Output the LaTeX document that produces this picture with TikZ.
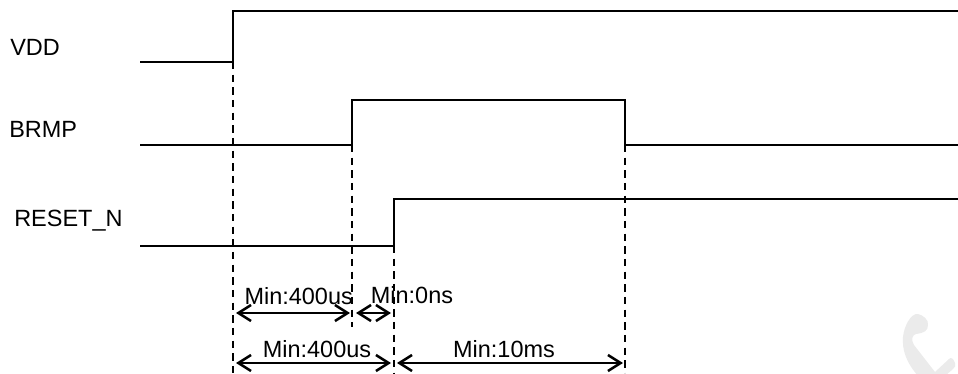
\documentclass[tikz,border=0pt]{standalone}
\usepackage{fontspec}
\setmainfont{Liberation Sans}
\usetikzlibrary{arrows.meta}
\tikzset{
    senal/.style={line width=1.7pt},
    guia/.style={line width=1.3pt, dash pattern=on 5.5pt off 4pt},
    cota/.style={line width=1.9pt, <->, >={Straight Barb[length=9.5pt,width=12pt]}},
    etiqueta/.style={inner sep=0pt, font=\fontsize{17.6}{20}\selectfont},
}
\begin{document}
\begin{tikzpicture}[x=0.75pt, y=-0.75pt]
        \useasboundingbox (0,0) rectangle (958,374);

        % Marca de agua
        \begin{scope}
            \clip (0,0) rectangle (958,374);
            \fill[black!8] (918,314) .. controls (923,315) and (929,320) .. (928,325)
                .. controls (928,331) and (924,333) .. (916,334)
                .. controls (912,335) and (911,340) .. (914,345)
                -- (935,372) -- (949,359)
                .. controls (951,357) and (953,358) .. (955,363)
                .. controls (956,366) and (955,367) .. (953,369)
                -- (945,376) -- (918,376)
                .. controls (906,362) and (902,350) .. (903,337)
                .. controls (904,326) and (911,313) .. (918,314) -- cycle;
        \end{scope}

        % Puntos de las transiciones
        \coordinate (vddIni) at (140,62);
        \coordinate (vddBajo) at (233,62);
        \coordinate (vddAlto) at (233,11);
        \coordinate (vddFin) at (958,11);
        \coordinate (brmpIni) at (140,145);
        \coordinate (brmpBajo) at (352,145);
        \coordinate (brmpAlto) at (352,100);
        \coordinate (brmpAlto2) at (625,100);
        \coordinate (brmpBajo2) at (625,145);
        \coordinate (brmpFin) at (958,145);
        \coordinate (rstIni) at (140,246);
        \coordinate (rstBajo) at (394,246);
        \coordinate (rstAlto) at (394,199);
        \coordinate (rstFin) at (958,199);

        % Señales
        \draw[senal] (vddIni) -- (vddBajo) -- (vddAlto) -- (vddFin);
        \draw[senal] (brmpIni) -- (brmpBajo) -- (brmpAlto) -- (brmpAlto2) -- (brmpBajo2) -- (brmpFin);
        \draw[senal] (rstIni) -- (rstBajo) -- (rstAlto) -- (rstFin);

        % Nombres
        \node[etiqueta, anchor=base west] (vdd) at (10,56) {VDD};
        \node[etiqueta, anchor=base west] (brmp) at (9,138) {BRMP};
        \node[etiqueta, anchor=base west] (rst) at (14,227) {RESET\_N};

        % Guías
        \coordinate (guiaA) at (233,374);
        \coordinate (guiaB) at (352,327);
        \coordinate (guiaC) at (394,373);
        \coordinate (guiaD) at (625,373);
        \draw[guia] (vddBajo) -- (guiaA);
        \draw[guia] (brmpBajo) -- (guiaB);
        \draw[guia] (rstBajo) -- (guiaC);
        \draw[guia] (brmpBajo2) -- (guiaD);

        % Cotas
        \coordinate (c1) at (236,313);
        \coordinate (c2) at (350,313);
        \coordinate (c3) at (356,313);
        \coordinate (c4) at (391,313);
        \coordinate (c5) at (236,363);
        \coordinate (c6) at (391,363);
        \coordinate (c7) at (397,363);
        \coordinate (c8) at (623,363);
        \draw[cota] (c1) -- (c2);
        \draw[cota] (c3) -- (c4);
        \draw[cota] (c5) -- (c6);
        \draw[cota] (c7) -- (c8);

        \node[etiqueta, anchor=base] (t1) at (298.7,304.5) {Min:400us};
        \node[etiqueta, anchor=base] (t2) at (412,304) {Min:0ns};
        \node[etiqueta, anchor=base] (t3) at (317,358) {Min:400us};
        \node[etiqueta, anchor=base] (t4) at (504,358) {Min:10ms};

\end{tikzpicture}
\end{document}
